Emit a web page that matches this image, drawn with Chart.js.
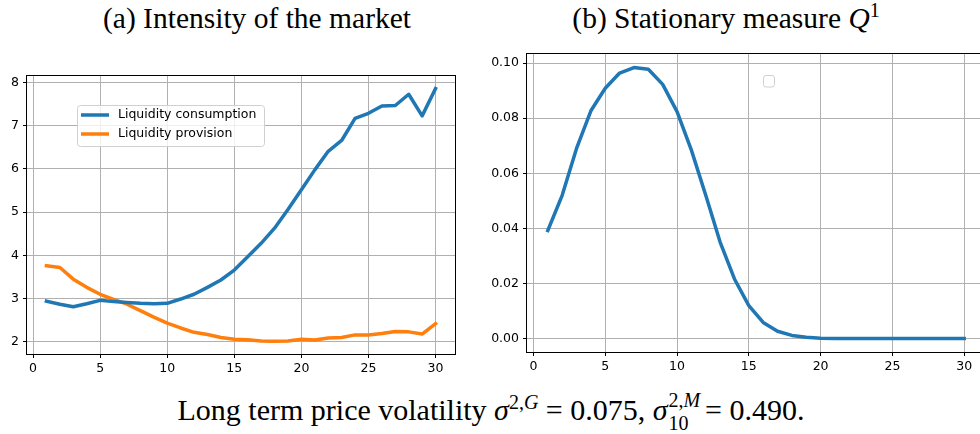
<!DOCTYPE html>
<html>
<head>
<meta charset="utf-8">
<script src="https://cdn.jsdelivr.net/npm/chart.js@4.4.0/dist/chart.umd.min.js"></script>
<style>
  html, body { margin: 0; padding: 0; background: #fff; width: 980px; height: 434px; overflow: hidden; }
  .serif { position: absolute; font-family: "Liberation Serif", "DejaVu Serif", serif; font-size: 29.5px; line-height: 28px; color: #000; white-space: nowrap; transform: translateX(-50%); }
  .cap { font-size: 30px; }
  .sup { position: relative; font-size: 20px; top: -11px; }
  .ss { display: inline-block; position: relative; width: 30px; height: 20px; }
  .ss .hi { position: absolute; left: 1px; top: -10px; font-size: 20px; line-height: 20px; }
  .ss .lo { position: absolute; left: 1px; top: 13px; font-size: 20px; line-height: 20px; }
  #wrapA { position: absolute; left: 0; top: 60px; width: 470px; height: 320px; }
  #wrapB { position: absolute; left: 480px; top: 40px; width: 520px; height: 340px; }
</style>
</head>
<body>
<div class="serif" style="left:257px; top:4px;">(a) Intensity of the market</div>
<div class="serif" style="left:726px; top:4px;">(b) Stationary measure <i>Q</i><span class="sup">1</span></div>
<div id="wrapA"><canvas id="chartA" width="470" height="320"></canvas></div>
<div id="wrapB"><canvas id="chartB" width="520" height="340"></canvas></div>
<div class="serif cap" style="left:491px; top:396px;">Long term price volatility <i>σ</i><span class="sup">2,<i>G</i></span> = 0.075, <i>σ</i><span class="ss"><span class="hi">2,<i>M</i></span><span class="lo">10</span></span> = 0.490.</div>

<script>
// ---- data ----
const steps = [1, 2, 3, 4, 5, 6, 7, 8, 9, 10, 11, 12, 13, 14, 15, 16, 17, 18, 19, 20, 21, 22, 23, 24, 25, 26, 27, 28, 29, 30];
const consumption = [2.94, 2.87, 2.81, 2.88, 2.96, 2.93, 2.91, 2.89, 2.88, 2.89, 2.99, 3.10, 3.26, 3.43, 3.66, 3.97, 4.28, 4.63, 5.06, 5.52, 5.98, 6.41, 6.66, 7.17, 7.29, 7.46, 7.47, 7.73, 7.23, 7.86];
const provision = [3.76, 3.72, 3.45, 3.26, 3.10, 2.98, 2.87, 2.72, 2.57, 2.43, 2.32, 2.22, 2.17, 2.10, 2.06, 2.05, 2.02, 2.01, 2.02, 2.06, 2.04, 2.09, 2.10, 2.16, 2.16, 2.19, 2.24, 2.23, 2.18, 2.42];
const qMeasure = [0.0392, 0.0520, 0.0690, 0.0827, 0.0909, 0.0964, 0.0984, 0.0978, 0.0923, 0.0824, 0.0684, 0.0520, 0.0350, 0.0216, 0.0119, 0.0058, 0.0026, 0.0011, 0.0004, 0.0001, 0, 0, 0, 0, 0, 0, 0, 0, 0, 0];

const xTicks = [0, 5, 10, 15, 20, 25, 30];
const yTicksA = [2, 3, 4, 5, 6, 7, 8];
const yTicksB = [0, 0.02, 0.04, 0.06, 0.08, 0.10];
const labelsA = ['Liquidity consumption', 'Liquidity provision'];

const BLUE = '#1f77b4';
const ORANGE = '#ff7f0e';
const TICK_FONT = { family: 'DejaVu Sans', size: 12.5 };

// matplotlib-style 5% margins
function padded(values) {
  const lo = Math.min(...values), hi = Math.max(...values);
  const m = (hi - lo) * 0.05;
  return [lo - m, hi + m];
}

function points(ys) {
  return steps.map((x, i) => ({ x, y: ys[i] }));
}

function line(label, ys, color) {
  return {
    label,
    data: points(ys),
    borderColor: color,
    backgroundColor: color,
    borderWidth: 3.5,
    borderJoinStyle: 'round',
    borderCapStyle: 'square',
    pointRadius: 0,
    tension: 0,
    fill: false,
  };
}

function axis(range, ticks, fmt, fixed, isY) {
  return {
    type: 'linear',
    min: range[0],
    max: range[1],
    afterBuildTicks: s => { s.ticks = ticks.map(v => ({ value: v })); },
    afterFit: s => { if (isY) s.width = fixed; else s.height = fixed; },
    grid: { color: '#b0b0b0', lineWidth: 1, tickLength: 4, tickColor: '#000', tickWidth: 1 },
    border: { display: false },
    ticks: { color: '#000', font: TICK_FONT, padding: isY ? 4 : 3, maxRotation: 0, autoSkip: false, callback: fmt },
  };
}

const frame = {
  id: 'frame',
  afterDraw(chart) {
    const { ctx, chartArea: a } = chart;
    ctx.save();
    ctx.strokeStyle = '#000';
    ctx.lineWidth = 1;
    ctx.strokeRect(Math.round(a.left) - 0.5, Math.round(a.top) - 0.5, Math.round(a.right - a.left) + 1, Math.round(a.bottom - a.top) + 1);
    ctx.restore();
  }
};

const legendA = {
  id: 'legendA',
  afterDraw(chart) {
    const ctx = chart.ctx;
    ctx.save();
    ctx.beginPath();
    ctx.roundRect(77.5, 45.5, 187, 41, 3);
    ctx.fillStyle = 'rgba(255,255,255,0.8)';
    ctx.fill();
    ctx.strokeStyle = '#d0d0d0';
    ctx.lineWidth = 1;
    ctx.stroke();
    chart.data.datasets.forEach((ds, i) => {
      const y = 55 + i * 19;
      ctx.beginPath();
      ctx.moveTo(81, y);
      ctx.lineTo(109, y);
      ctx.strokeStyle = ds.borderColor;
      ctx.lineWidth = 3.5;
      ctx.stroke();
      ctx.fillStyle = '#000';
      ctx.font = '12.5px "DejaVu Sans"';
      ctx.textBaseline = 'middle';
      ctx.fillText(ds.label, 118, y);
    });
    ctx.restore();
  }
};

const emptyLegendB = {
  id: 'emptyLegendB',
  afterDraw(chart) {
    const ctx = chart.ctx;
    ctx.save();
    ctx.beginPath();
    ctx.roundRect(283.5, 35.5, 11, 11.5, 2.5);
    ctx.fillStyle = 'rgba(255,255,255,0.8)';
    ctx.fill();
    ctx.strokeStyle = '#d0d0d0';
    ctx.lineWidth = 1;
    ctx.stroke();
    ctx.restore();
  }
};

const base = {
  responsive: false,
  animation: false,
  devicePixelRatio: 1,
  plugins: { legend: { display: false }, tooltip: { enabled: false } },
};

new Chart(document.getElementById('chartA').getContext('2d'), {
  type: 'line',
  data: {
    datasets: [
      line(labelsA[0], consumption, BLUE),
      line(labelsA[1], provision, ORANGE),
    ]
  },
  options: {
    ...base,
    layout: { padding: { top: 16, right: 15, left: 0, bottom: 0 } },
    scales: {
      x: axis(padded(steps), xTicks, v => String(v), 26, false),
      y: axis(padded(consumption.concat(provision)), yTicksA, v => String(v), 27, true),
    }
  },
  plugins: [frame, legendA]
});

new Chart(document.getElementById('chartB').getContext('2d'), {
  type: 'line',
  data: {
    datasets: [line('', qMeasure, BLUE)]
  },
  options: {
    ...base,
    layout: { padding: { top: 14, right: 15, left: 0, bottom: 0 } },
    scales: {
      x: axis(padded(steps), xTicks, v => String(v), 28, false),
      y: axis(padded(qMeasure), yTicksB, v => v.toFixed(2), 47, true),
    }
  },
  plugins: [frame, emptyLegendB]
});
</script>
</body>
</html>
